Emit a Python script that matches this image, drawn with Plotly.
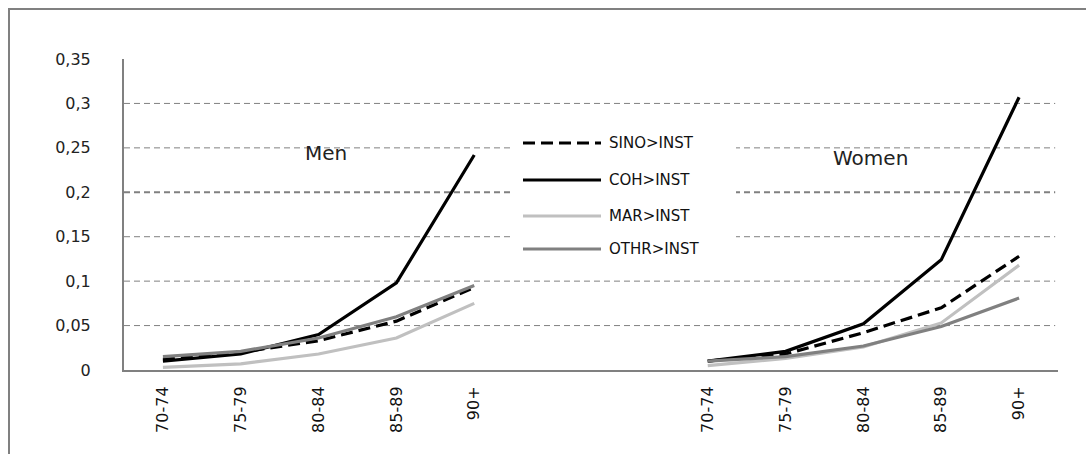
import plotly.graph_objects as go

# Age groups, shown once for men and once for women
AGE_GROUPS = ["70-74", "75-79", "80-84", "85-89", "90+"]
MEN_POS = [0, 1, 2, 3, 4]
WOMEN_POS = [7, 8, 9, 10, 11]

# Transition rates into institutions
MEN_SINO = [0.012, 0.020, 0.033, 0.055, 0.093]
MEN_COH = [0.010, 0.018, 0.040, 0.098, 0.242]
MEN_MAR = [0.003, 0.007, 0.018, 0.036, 0.075]
MEN_OTHR = [0.015, 0.021, 0.036, 0.060, 0.095]

WOMEN_SINO = [0.010, 0.018, 0.042, 0.070, 0.128]
WOMEN_COH = [0.010, 0.021, 0.052, 0.124, 0.307]
WOMEN_MAR = [0.005, 0.013, 0.026, 0.053, 0.118]
WOMEN_OTHR = [0.010, 0.015, 0.027, 0.049, 0.081]

SERIES = [
    ("SINO>INST", MEN_SINO, WOMEN_SINO, "#000000", "12px,6px"),
    ("COH>INST", MEN_COH, WOMEN_COH, "#000000", "solid"),
    ("MAR>INST", MEN_MAR, WOMEN_MAR, "#c0c0c0", "solid"),
    ("OTHR>INST", MEN_OTHR, WOMEN_OTHR, "#808080", "solid"),
]

Y_TICKS = [0, 0.05, 0.1, 0.15, 0.2, 0.25, 0.3, 0.35]
GRID_VALUES = [0.05, 0.1, 0.15, 0.2, 0.25, 0.3]

W, H = 1086, 454
ML, MR, MT, MB = 124, 28, 59, 84
PW, PH = W - ML - MR, H - MT - MB


def px_x(p):
    return (p - ML) / PW


def px_y(p):
    return (H - MB - p) / PH


fig = go.Figure()

for name, men, women, color, dash in SERIES:
    for pos, vals in ((MEN_POS, men), (WOMEN_POS, women)):
        fig.add_trace(go.Scatter(
            x=pos, y=vals, mode="lines", name=name, showlegend=False,
            line=dict(color=color, width=3.2, dash=dash),
        ))

shapes = []
# dashed horizontal gridlines
for g in GRID_VALUES:
    shapes.append(dict(
        type="line", xref="paper", yref="y", x0=0, x1=0.997, y0=g, y1=g,
        line=dict(color="#808080", width=2 if g == 0.2 else 1, dash="6px,4px"),
        layer="below",
    ))

# legend box
shapes.append(dict(
    type="rect", xref="paper", yref="paper",
    x0=px_x(513), x1=px_x(736), y0=px_y(266), y1=px_y(126),
    fillcolor="white", line=dict(width=0), layer="above",
))

annotations = []
legend_rows = [143, 180, 216, 249]
for (name, _, _, color, dash), ry in zip(SERIES, legend_rows):
    shapes.append(dict(
        type="line", xref="paper", yref="paper",
        x0=px_x(523), x1=px_x(601), y0=px_y(ry), y1=px_y(ry),
        line=dict(color=color, width=3.2, dash=dash), layer="above",
    ))
    annotations.append(dict(
        xref="paper", yref="paper", x=px_x(607), y=px_y(ry),
        text=name, showarrow=False, xanchor="left", yanchor="middle",
        font=dict(family="DejaVu Sans", size=15, color="#111111"),
    ))

# outer chart frame
shapes.append(dict(
    type="rect", xref="paper", yref="paper",
    x0=px_x(9), x1=px_x(1095), y0=px_y(462), y1=px_y(9),
    line=dict(color="#808080", width=2), fillcolor="rgba(0,0,0,0)",
    layer="below",
))

annotations.append(dict(
    xref="paper", yref="paper", x=px_x(326), y=px_y(153),
    text="Men", showarrow=False, xanchor="center", yanchor="middle",
    font=dict(family="DejaVu Sans", size=20, color="#222222"),
))
annotations.append(dict(
    xref="paper", yref="paper", x=px_x(870), y=px_y(158),
    text="Women", showarrow=False, xanchor="center", yanchor="middle",
    font=dict(family="DejaVu Sans", size=20, color="#222222"),
))

fig.update_layout(
    width=W, height=H,
    margin=dict(l=ML, r=MR, t=MT, b=MB, pad=0),
    paper_bgcolor="white", plot_bgcolor="white",
    separators=",.",
    showlegend=False,
    shapes=shapes,
    annotations=annotations,
    xaxis=dict(
        range=[-0.5, 11.5],
        tickmode="array",
        tickvals=MEN_POS + WOMEN_POS,
        ticktext=AGE_GROUPS + AGE_GROUPS,
        tickangle=-90,
        showgrid=False, zeroline=False,
        showline=True, linecolor="#808080", linewidth=2,
        ticks="", ticklabelstandoff=8,
        tickfont=dict(family="DejaVu Sans", size=16, color="#111111"),
        fixedrange=True,
    ),
    yaxis=dict(
        range=[0, 0.35],
        tickmode="array",
        tickvals=Y_TICKS,
        showgrid=False, zeroline=False,
        showline=True, linecolor="#808080", linewidth=2,
        ticks="", ticklabelstandoff=28,
        tickfont=dict(family="DejaVu Sans", size=16, color="#222222"),
        fixedrange=True,
    ),
)

fig.write_html("out.html")
